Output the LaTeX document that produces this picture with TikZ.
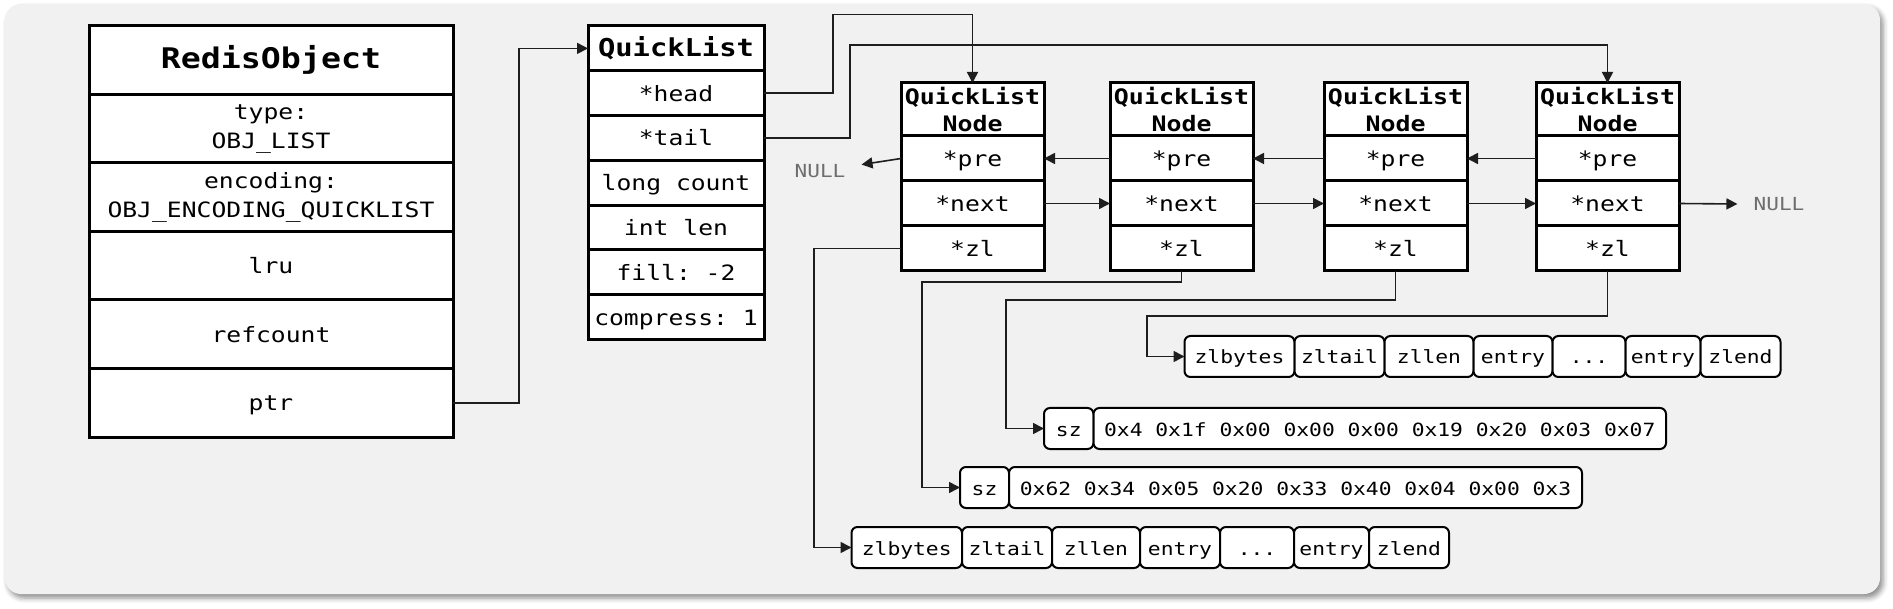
\documentclass[tikz,border=0pt]{standalone}
\usepackage{fontspec}
\setmonofont[FakeStretch=1.17]{DejaVu Sans Mono}
\usepackage{tikz}
\usetikzlibrary{arrows.meta, positioning, backgrounds, shadows.blur}
\definecolor{panelbg}{RGB}{241, 241, 241}
\definecolor{linkcol}{RGB}{30, 30, 30}
\definecolor{nullcol}{RGB}{110, 110, 110}
\tikzset{
    field/.style={rectangle, draw=black, fill=white, line width=3pt, outer sep=0pt, inner sep=0pt, align=center, font=\ttfamily\fontsize{21.1}{29}\selectfont},
    oneline/.style={text height=#1, text depth=0pt},
    robjtitle/.style={field, minimum width=364pt, minimum height=68.5pt, font=\ttfamily\bfseries\fontsize{28.4}{34}\selectfont},
    robjfield/.style={field, minimum width=364pt, minimum height=68.5pt},
    qltitle/.style={field, minimum width=176pt, minimum height=44.8pt, font=\ttfamily\bfseries\fontsize{24.6}{30}\selectfont},
    qlfield/.style={field, oneline=16pt, minimum width=176pt, minimum height=44.8pt},
    nodetitle/.style={field, minimum width=143pt, minimum height=53pt, font=\ttfamily\bfseries\fontsize{21.3}{27}\selectfont},
    nodefield/.style={field, oneline=16pt, minimum width=143pt, minimum height=45pt},
    zlcell/.style={rectangle, rounded corners=6pt, draw=black, fill=white, line width=2pt, outer sep=0pt, inner sep=0pt, minimum height=41pt, oneline=15pt, font=\ttfamily\fontsize{18.2}{22}\selectfont},
    nulltext/.style={font=\ttfamily\fontsize{18}{22}\selectfont, text=nullcol, inner xsep=16pt, oneline=14pt},
    link/.style={line width=1.6pt, draw=linkcol},
    arrow/.style={link, -{Triangle[length=11pt, width=11pt]}},
    panel/.style={fill=panelbg, rounded corners=16pt, blur shadow={shadow xshift=3pt, shadow yshift=-4pt, shadow blur radius=5pt, shadow opacity=45}}
}

\begin{document}
\begin{tikzpicture}[x=1pt, y=-1pt]
    \useasboundingbox (0,0) rectangle (1893,609);

    % RedisObject
    \node (ro) [robjtitle, anchor=north west] at (89,26) {RedisObject};
    \node (rotype) [robjfield, below=0pt of ro] {type:\\OBJ\_LIST};
    \node (roenc) [robjfield, below=0pt of rotype] {encoding:\\OBJ\_ENCODING\_QUICKLIST};
    \node (rolru) [robjfield, oneline=16pt, below=0pt of roenc] {lru};
    \node (roref) [robjfield, oneline=16pt, below=0pt of rolru] {refcount};
    \node (roptr) [robjfield, oneline=16pt, below=0pt of roref] {ptr};

    % QuickList
    \node (ql) [qltitle, anchor=north west] at (588,26) {QuickList};
    \node (qlhead) [qlfield, below=0pt of ql] {*head};
    \node (qltail) [qlfield, below=0pt of qlhead] {*tail};
    \node (qlcount) [qlfield, below=0pt of qltail] {long count};
    \node (qllen) [qlfield, below=0pt of qlcount] {int len};
    \node (qlfill) [qlfield, below=0pt of qllen] {fill: -2};
    \node (qlcomp) [qlfield, below=0pt of qlfill] {compress: 1};

    % QuickList nodes
    \node (n1) [nodetitle, anchor=north west] at (901,83) {QuickList\\Node};
    \node (n1pre) [nodefield, below=0pt of n1] {*pre};
    \node (n1next) [nodefield, below=0pt of n1pre] {*next};
    \node (n1zl) [nodefield, below=0pt of n1next] {*zl};

    \node (n2) [nodetitle, right=66pt of n1] {QuickList\\Node};
    \node (n2pre) [nodefield, below=0pt of n2] {*pre};
    \node (n2next) [nodefield, below=0pt of n2pre] {*next};
    \node (n2zl) [nodefield, below=0pt of n2next] {*zl};

    \node (n3) [nodetitle, right=71pt of n2] {QuickList\\Node};
    \node (n3pre) [nodefield, below=0pt of n3] {*pre};
    \node (n3next) [nodefield, below=0pt of n3pre] {*next};
    \node (n3zl) [nodefield, below=0pt of n3next] {*zl};

    \node (n4) [nodetitle, right=69pt of n3] {QuickList\\Node};
    \node (n4pre) [nodefield, below=0pt of n4] {*pre};
    \node (n4next) [nodefield, below=0pt of n4pre] {*next};
    \node (n4zl) [nodefield, below=0pt of n4next] {*zl};

    % NULL ends
    \node (nullL) [nulltext] at (820,171) {NULL};
    \node (nullR) [nulltext] at (1779,204) {NULL};

    % Ziplist of the last node
    \node (zd1) [zlcell, minimum width=110pt, anchor=west] at (1184.5,356.5) {zlbytes};
    \node (zd2) [zlcell, minimum width=90pt, right=0pt of zd1] {zltail};
    \node (zd3) [zlcell, minimum width=89pt, right=0pt of zd2] {zllen};
    \node (zd4) [zlcell, minimum width=79pt, right=0pt of zd3] {entry};
    \node (zd5) [zlcell, minimum width=73pt, right=0pt of zd4] {...};
    \node (zd6) [zlcell, minimum width=75pt, right=0pt of zd5] {entry};
    \node (zd7) [zlcell, minimum width=80pt, right=0pt of zd6] {zlend};

    % Compressed ziplists
    \node (szc) [zlcell, minimum width=49.5pt, anchor=west] at (1044,428.5) {sz};
    \node (datc) [zlcell, minimum width=572.5pt, right=0pt of szc] {0x4 0x1f 0x00 0x00 0x00 0x19 0x20 0x03 0x07};
    \node (szb) [zlcell, minimum width=49pt, anchor=west] at (960,487.5) {sz};
    \node (datb) [zlcell, minimum width=573pt, right=0pt of szb] {0x62 0x34 0x05 0x20 0x33 0x40 0x04 0x00 0x3};

    % Ziplist of the first node
    \node (za1) [zlcell, minimum width=110.5pt, anchor=west] at (851.5,547.5) {zlbytes};
    \node (za2) [zlcell, minimum width=90pt, right=0pt of za1] {zltail};
    \node (za3) [zlcell, minimum width=88pt, right=0pt of za2] {zllen};
    \node (za4) [zlcell, minimum width=80pt, right=0pt of za3] {entry};
    \node (za5) [zlcell, minimum width=74pt, right=0pt of za4] {...};
    \node (za6) [zlcell, minimum width=75pt, right=0pt of za5] {entry};
    \node (za7) [zlcell, minimum width=80pt, right=0pt of za6] {zlend};

    % Paths: object -> list
    \draw [arrow] (roptr.east) -- ++(66,0) |- (ql.west);
    \draw [arrow] (qlhead.east) -- ++(69,0) -- ++(0,-78.5) -| (n1.north);
    \draw [arrow] (qltail.east) -- ++(86,0) -- ++(0,-93) -| (n4.north);

    % Paths: pre / next
    \draw [arrow] (n1pre.west) -- (nullL);
    \draw [arrow] (n2pre.west) -- (n1pre.east);
    \draw [arrow] (n3pre.west) -- (n2pre.east);
    \draw [arrow] (n4pre.west) -- (n3pre.east);
    \draw [arrow] (n1next.east) -- (n2next.west);
    \draw [arrow] (n2next.east) -- (n3next.west);
    \draw [arrow] (n3next.east) -- (n4next.west);
    \draw [arrow] (n4next.east) -- (nullR.west);

    % Paths: zl
    \draw [arrow] (n1zl.west) -- ++(-87,0) |- (za1.west);
    \draw [arrow] (n2zl.south) -- ++(0,11) -- ++(-259.5,0) |- (szb.west);
    \draw [arrow] (n3zl.south) -- ++(0,29) -- ++(-389.5,0) |- (szc.west);
    \draw [arrow] (n4zl.south) -- ++(0,45) -- ++(-460.5,0) |- (zd1.west);

    % Background panel
    \coordinate (panelTL) at (5,4);
    \coordinate (panelBR) at (1880,594);
    \begin{scope}[on background layer]
        \fill [panel] (panelTL) rectangle (panelBR);
    \end{scope}

\end{tikzpicture}
\end{document}
